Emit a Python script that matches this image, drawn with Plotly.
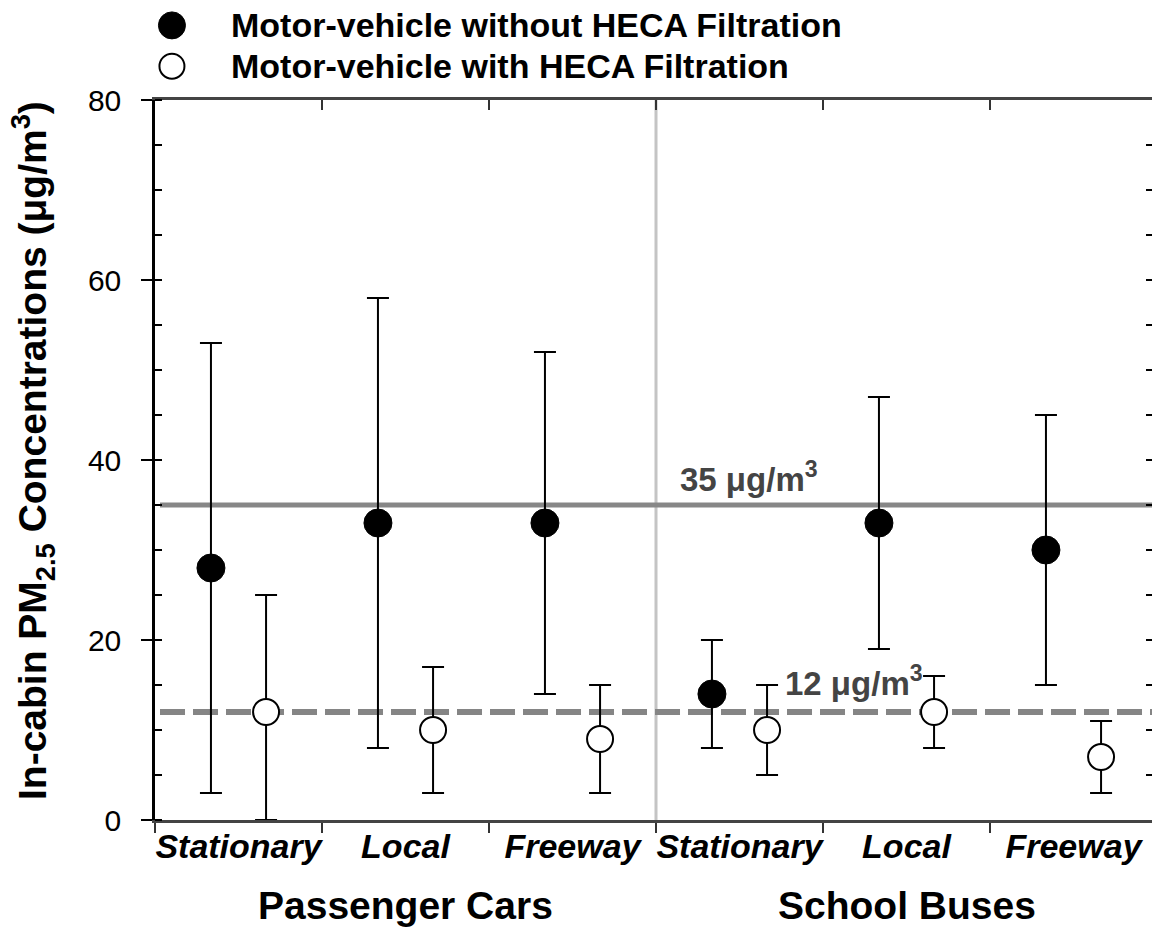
import plotly.graph_objects as go

# ---- data -------------------------------------------------------------
categories = ["Stationary", "Local", "Freeway", "Stationary", "Local", "Freeway"]
groups = ["Passenger Cars", "School Buses"]

without_mean = [28, 33, 33, 14, 33, 30]
without_upper = [53, 58, 52, 20, 47, 45]
without_lower = [3, 8, 14, 8, 19, 15]

with_mean = [12, 10, 9, 10, 12, 7]
with_upper = [25, 17, 15, 15, 16, 11]
with_lower = [0, 3, 3, 5, 8, 3]

daily_standard = 35
annual_standard = 12

series_names = ["Motor-vehicle without HECA Filtration",
                "Motor-vehicle with HECA Filtration"]

y_ticks = [0, 20, 40, 60, 80]

# ---- helpers ----------------------------------------------------------
FONT = "Arial, Liberation Sans, sans-serif"
pos = list(range(len(categories)))
offset = 0.165
x_without = [p - offset for p in pos]
x_with = [p + offset for p in pos]
bounds = [p - 0.5 for p in pos] + [pos[-1] + 0.5]
n_per_group = len(categories) // len(groups)
group_centers = [g * n_per_group + (n_per_group - 1) / 2 for g in range(len(groups))]
divider_x = n_per_group - 0.5
x_range = [-0.5, -0.5 + 997 / 167]

err = dict(type="data", symmetric=False, color="black", thickness=2, width=11)

fig = go.Figure()

# reference lines (drawn first so markers sit on top)
x_span = [-0.47, pos[-1] + 0.5]
fig.add_trace(go.Scatter(x=x_span, y=[daily_standard] * 2, mode="lines",
                         line=dict(color="#878787", width=5),
                         showlegend=False, hoverinfo="skip", cliponaxis=False))
fig.add_trace(go.Scatter(x=x_span, y=[annual_standard] * 2, mode="lines",
                         line=dict(color="#858585", width=6, dash="25px,8px"),
                         showlegend=False, hoverinfo="skip", cliponaxis=False))

fig.add_trace(go.Scatter(
    x=x_without, y=without_mean, mode="markers", name=series_names[0],
    marker=dict(size=28, color="black", line=dict(color="black", width=1)),
    error_y=dict(err,
                 array=[u - m for u, m in zip(without_upper, without_mean)],
                 arrayminus=[m - l for m, l in zip(without_mean, without_lower)]),
    showlegend=False, cliponaxis=False))

fig.add_trace(go.Scatter(
    x=x_with, y=with_mean, mode="markers", name=series_names[1],
    marker=dict(size=26, color="white", line=dict(color="black", width=2)),
    error_y=dict(err,
                 array=[u - m for u, m in zip(with_upper, with_mean)],
                 arrayminus=[m - l for m, l in zip(with_mean, with_lower)]),
    showlegend=False, cliponaxis=False))

# mirror axes (top / right)
fig.add_trace(go.Scatter(x=[], y=[], xaxis="x2", yaxis="y2",
                         showlegend=False, hoverinfo="skip"))

# legend drawn on its own small axes above the plot
legend_x = 0.017
legend_y = [0.76, 0.28]
fig.add_trace(go.Scatter(
    x=[legend_x], y=[legend_y[0]], xaxis="x3", yaxis="y3", mode="markers",
    marker=dict(size=27, color="black", line=dict(color="black", width=1)),
    showlegend=False, hoverinfo="skip", cliponaxis=False))
fig.add_trace(go.Scatter(
    x=[legend_x], y=[legend_y[1]], xaxis="x3", yaxis="y3", mode="markers",
    marker=dict(size=25, color="white", line=dict(color="black", width=2)),
    showlegend=False, hoverinfo="skip", cliponaxis=False))

annotations = []
for yy, name in zip(legend_y, series_names):
    annotations.append(dict(x=0.074, y=yy, xref="x3", yref="y3", text=f"<b>{name}</b>",
                            showarrow=False, xanchor="left", yanchor="middle",
                            font=dict(family=FONT, size=34, color="black")))

for c, g in zip(group_centers, groups):
    annotations.append(dict(x=c, y=0, xref="x", yref="paper", text=f"<b>{g}</b>",
                            showarrow=False, xanchor="center", yanchor="middle",
                            yshift=-85, font=dict(family=FONT, size=39, color="black")))

annotations.append(dict(x=divider_x + 0.13, y=daily_standard, xref="x", yref="y",
                        text="<b>35 μg/m<sup>3</sup></b>", showarrow=False,
                        xanchor="left", yanchor="bottom", yshift=5,
                        font=dict(family=FONT, size=33, color="#444444")))
annotations.append(dict(x=divider_x + 0.76, y=annual_standard, xref="x", yref="y",
                        text="<b>12 μg/m<sup>3</sup></b>", showarrow=False,
                        xanchor="left", yanchor="bottom", yshift=8,
                        font=dict(family=FONT, size=33, color="#444444")))

annotations.append(dict(x=0, y=41, xref="paper", yref="y", xshift=-122,
                        text="<b>In-cabin PM<sub>2.5</sub> Concentrations (μg/m<sup>3</sup>)</b>",
                        textangle=-90, showarrow=False, xanchor="center", yanchor="middle",
                        font=dict(family=FONT, size=39, color="black")))

fig.update_layout(
    width=1152, height=927,
    margin=dict(l=155, r=0, t=0, b=107, pad=0, autoexpand=False),
    plot_bgcolor="white", paper_bgcolor="white",
    showlegend=False,
    annotations=annotations,
    shapes=[dict(type="line", xref="x", yref="y domain", x0=divider_x, x1=divider_x,
                 y0=0, y1=1, line=dict(color="#c4c4c4", width=3), layer="below")],
    xaxis=dict(range=x_range, domain=[0, 1], anchor="y", automargin=False,
               tickmode="array", tickvals=pos,
               ticktext=[f"<b><i>{c}</i></b>" for c in categories],
               ticks="", ticklabelstandoff=-6,
               tickfont=dict(family=FONT, size=34, color="black"),
               minor=dict(tickmode="array", tickvals=bounds, ticks="outside",
                          ticklen=10, tickwidth=2, tickcolor="#333333"),
               showline=True, linecolor="#444444", linewidth=2.5,
               showgrid=False, zeroline=False),
    xaxis2=dict(range=x_range, overlaying="x", side="top", anchor="y", automargin=False,
                tickmode="array", tickvals=bounds, ticks="inside", ticklen=10,
                tickwidth=2, tickcolor="#333333", showticklabels=False,
                showline=True, linecolor="#444444", linewidth=2.5,
                showgrid=False, zeroline=False),
    yaxis=dict(range=[0, 80], domain=[0, 720 / 820], anchor="x", automargin=False,
               tickmode="array", tickvals=y_ticks, ticks="outside", ticklen=11,
               tickwidth=2, tickcolor="black", ticklabelstandoff=14,
               tickfont=dict(family=FONT, size=30, color="black"),
               minor=dict(tick0=0, dtick=5, ticks="inside", ticklen=7,
                          tickwidth=2, tickcolor="black"),
               showline=True, linecolor="black", linewidth=2.5,
               showgrid=False, zeroline=False),
    yaxis2=dict(range=[0, 80], overlaying="y", side="right", anchor="x", automargin=False,
                tickmode="linear", tick0=0, dtick=5, ticks="inside", ticklen=6,
                tickwidth=2, tickcolor="black", showticklabels=False,
                showline=False, showgrid=False, zeroline=False),
    xaxis3=dict(range=[0, 1], domain=[0, 1], anchor="y3", visible=False,
                fixedrange=True, automargin=False),
    yaxis3=dict(range=[0, 1], domain=[(820 - 90) / 820, (820 - 5) / 820], anchor="x3",
                visible=False, fixedrange=True, automargin=False),
)

fig.write_html("out.html")
